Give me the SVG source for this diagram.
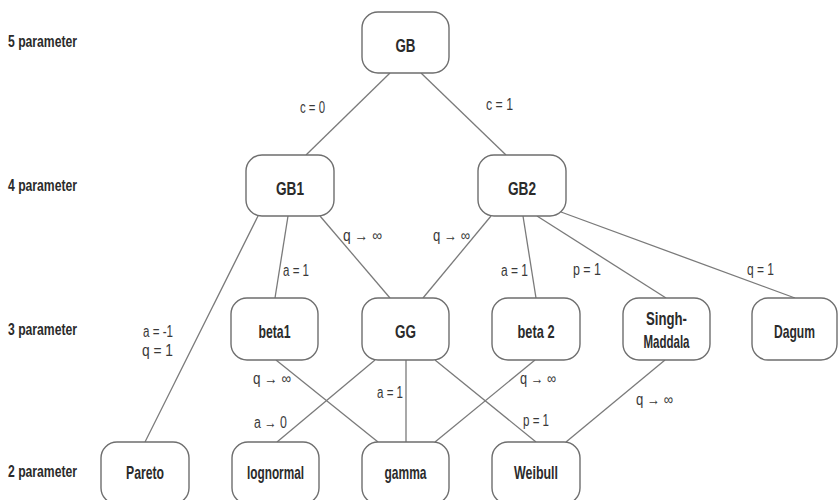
<svg xmlns="http://www.w3.org/2000/svg" width="838" height="500" viewBox="0 0 838 500">
<style>
.bg{fill:#fff}
.node rect{fill:#fff;stroke:#6e6e6e;stroke-width:1.4}
.node text{font-family:"Liberation Sans",Arial,sans-serif;font-weight:bold;font-size:19px;fill:#2b2b2b;text-anchor:middle}
.lvl{font-family:"Liberation Sans",Arial,sans-serif;font-weight:bold;font-size:16px;fill:#2b2b2b}
#connectors line{stroke:#7a7a7a;stroke-width:1.3}
.el{font-family:"Liberation Sans","DejaVu Sans",sans-serif;font-size:16px;fill:#3a3a3a}
</style>
<rect class="bg" x="0" y="0" width="838" height="500"/>

<g id="levels">
<text class="lvl" x="8" y="47" textLength="69" lengthAdjust="spacingAndGlyphs">5 parameter</text>
<text class="lvl" x="8" y="191" textLength="69" lengthAdjust="spacingAndGlyphs">4 parameter</text>
<text class="lvl" x="8" y="335" textLength="69" lengthAdjust="spacingAndGlyphs">3 parameter</text>
<text class="lvl" x="8" y="477" textLength="69" lengthAdjust="spacingAndGlyphs">2 parameter</text>
</g>

<g id="connectors">
<line x1="390" y1="73" x2="306" y2="155"/>
<line x1="421" y1="73" x2="506" y2="155"/>
<line x1="258" y1="216" x2="145" y2="442"/>
<line x1="288" y1="216" x2="275" y2="298"/>
<line x1="320" y1="216" x2="390" y2="298"/>
<line x1="491" y1="216" x2="423" y2="298"/>
<line x1="523" y1="216" x2="536" y2="298"/>
<line x1="537" y1="216" x2="666" y2="298"/>
<line x1="561" y1="212" x2="795" y2="298"/>
<line x1="276" y1="360" x2="378" y2="442"/>
<line x1="375" y1="360" x2="277" y2="442"/>
<line x1="406" y1="360" x2="406" y2="442"/>
<line x1="435" y1="360" x2="536" y2="442"/>
<line x1="535" y1="360" x2="435" y2="442"/>
<line x1="665" y1="360" x2="566" y2="442"/>
</g>

<g id="edge-labels">
<text class="el" x="300" y="113" textLength="25" lengthAdjust="spacingAndGlyphs">c = 0</text>
<text class="el" x="486" y="110" textLength="27" lengthAdjust="spacingAndGlyphs">c = 1</text>
<text class="el" x="343" y="241" textLength="39" lengthAdjust="spacingAndGlyphs">q → ∞</text>
<text class="el" x="433" y="241" textLength="37" lengthAdjust="spacingAndGlyphs">q → ∞</text>
<text class="el" x="283" y="276" textLength="26" lengthAdjust="spacingAndGlyphs">a = 1</text>
<text class="el" x="501" y="276" textLength="27" lengthAdjust="spacingAndGlyphs">a = 1</text>
<text class="el" x="573" y="275" textLength="28" lengthAdjust="spacingAndGlyphs">p = 1</text>
<text class="el" x="747" y="275" textLength="27" lengthAdjust="spacingAndGlyphs">q = 1</text>
<text class="el" x="143" y="337" textLength="30" lengthAdjust="spacingAndGlyphs">a = -1</text>
<text class="el" x="142" y="356" textLength="31" lengthAdjust="spacingAndGlyphs">q = 1</text>
<text class="el" x="253" y="384" textLength="38" lengthAdjust="spacingAndGlyphs">q → ∞</text>
<text class="el" x="254" y="428" textLength="33" lengthAdjust="spacingAndGlyphs">a → 0</text>
<text class="el" x="377" y="398" textLength="26" lengthAdjust="spacingAndGlyphs">a = 1</text>
<text class="el" x="520" y="384" textLength="36" lengthAdjust="spacingAndGlyphs">q → ∞</text>
<text class="el" x="523" y="426" textLength="26" lengthAdjust="spacingAndGlyphs">p = 1</text>
<text class="el" x="636" y="405" textLength="37" lengthAdjust="spacingAndGlyphs">q → ∞</text>
</g>

<g id="GB" class="node"><rect x="362" y="12" width="87" height="61" rx="16"/><text x="405.5" y="51.5" textLength="20" lengthAdjust="spacingAndGlyphs">GB</text></g>
<g id="GB1" class="node"><rect x="246" y="155" width="88" height="61" rx="16"/><text x="290" y="195" textLength="28" lengthAdjust="spacingAndGlyphs">GB1</text></g>
<g id="GB2" class="node"><rect x="478" y="155" width="88" height="61" rx="16"/><text x="522" y="195" textLength="28" lengthAdjust="spacingAndGlyphs">GB2</text></g>
<g id="beta1" class="node"><rect x="231" y="298" width="87" height="62" rx="16"/><text x="274.5" y="338" textLength="32" lengthAdjust="spacingAndGlyphs">beta1</text></g>
<g id="GG" class="node"><rect x="362" y="298" width="87" height="62" rx="16"/><text x="405.5" y="338" textLength="21" lengthAdjust="spacingAndGlyphs">GG</text></g>
<g id="beta2" class="node"><rect x="492" y="298" width="88" height="62" rx="16"/><text x="536" y="338" textLength="37" lengthAdjust="spacingAndGlyphs">beta 2</text></g>
<g id="SinghMaddala" class="node"><rect x="623" y="298" width="87" height="62" rx="16"/><text x="666.5" y="325" textLength="41" lengthAdjust="spacingAndGlyphs">Singh-</text><text x="666.5" y="348" textLength="46" lengthAdjust="spacingAndGlyphs">Maddala</text></g>
<g id="Dagum" class="node"><rect x="752" y="298" width="85" height="62" rx="16"/><text x="794.5" y="338" textLength="41" lengthAdjust="spacingAndGlyphs">Dagum</text></g>
<g id="Pareto" class="node"><rect x="101" y="442" width="88" height="62" rx="16"/><text x="145" y="479" textLength="38" lengthAdjust="spacingAndGlyphs">Pareto</text></g>
<g id="lognormal" class="node"><rect x="232" y="442" width="87" height="62" rx="16"/><text x="275.5" y="479" textLength="57" lengthAdjust="spacingAndGlyphs">lognormal</text></g>
<g id="gamma" class="node"><rect x="362" y="442" width="87" height="62" rx="16"/><text x="405.5" y="479" textLength="42" lengthAdjust="spacingAndGlyphs">gamma</text></g>
<g id="Weibull" class="node"><rect x="492" y="442" width="88" height="62" rx="16"/><text x="536" y="479" textLength="44" lengthAdjust="spacingAndGlyphs">Weibull</text></g>
</svg>
